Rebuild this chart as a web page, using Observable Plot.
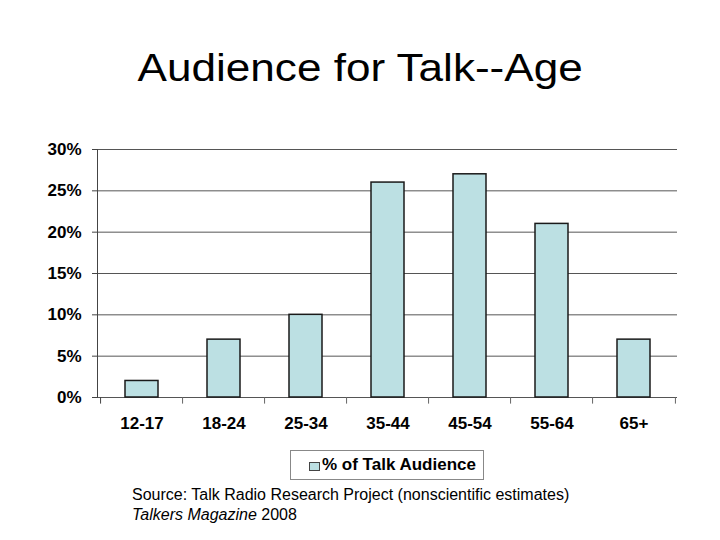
<!DOCTYPE html>
<html>
<head>
<meta charset="utf-8">
<script src="https://cdn.jsdelivr.net/npm/d3@7"></script>
<script src="https://cdn.jsdelivr.net/npm/@observablehq/plot@0.6"></script>
<style>
  html, body { margin: 0; padding: 0; background: #fff; }
  body { width: 720px; height: 540px; position: relative; overflow: hidden; font-family: "Liberation Sans", Arial, sans-serif; }
  #title { position: absolute; left: 0; top: 0; width: 720px; height: 120px; }
  #title div { position: absolute; left: 0; width: 720px; top: 47px; text-align: center; font-size: 38px; color: #000; transform: scaleX(1.16); transform-origin: 359px 0; }
  #chart { position: absolute; left: 0; top: 120px; }
  #legend { position: absolute; left: 290px; top: 450px; width: 192px; height: 28px; border: 1px solid #888; box-sizing: content-box; }
  #legend .sw { position: absolute; left: 18px; top: 11px; width: 9px; height: 7px; background: #BCE0E3; border: 1px solid #444; }
  #legend .lab { position: absolute; left: 31px; top: 4px; font-size: 17px; font-weight: bold; color: #000; white-space: nowrap; }
  #caption { position: absolute; left: 132px; top: 485px; font-size: 16px; line-height: 20px; color: #000; }
</style>
</head>
<body>
<div id="title"><div>Audience for Talk--Age</div></div>
<div id="chart"></div>
<div id="legend"><div class="sw"></div><div class="lab">% of Talk Audience</div></div>
<div id="caption">Source: Talk Radio Research Project (nonscientific estimates)<br><i>Talkers Magazine</i> 2008</div>
<script>
const ageGroups = ["12-17", "18-24", "25-34", "35-44", "45-54", "55-64", "65+"];
const audienceShare = [2, 7, 10, 26, 27, 21, 7];
const yTicks = [0, 5, 10, 15, 20, 25, 30];
const seriesName = "% of Talk Audience";

const data = ageGroups.map((g, i) => ({group: g, value: audienceShare[i]}));

const W = 720, H = 330;
const mL = 97, mR = 43, mT = 29, mB = 53;
const step = (W - mL - mR) / ageGroups.length;

const chart = Plot.plot({
  width: W,
  height: H,
  marginLeft: mL,
  marginRight: mR,
  marginTop: mT,
  marginBottom: mB,
  style: {fontFamily: "'Liberation Sans', Arial, sans-serif", background: "#fff", color: "#000"},
  x: {domain: ageGroups, paddingInner: 0.6, paddingOuter: 0.3, align: 0.5, label: null},
  y: {domain: [0, 30], label: null},
  marks: [
    Plot.gridY(yTicks, {stroke: "#555", strokeOpacity: 1, strokeWidth: 1}),
    Plot.frame({anchor: "left", stroke: "#444", strokeWidth: 1}),
    Plot.ruleX([ageGroups[0]], {x: d => d, dx: -step / 2, y1: 0, y2: -0.8, stroke: "#444"}),
    Plot.axisY(yTicks, {tickSize: 5, tickPadding: 11, tickFormat: d => d + "%", fontSize: 17, fontWeight: "bold", stroke: "#444", label: null}),
    Plot.axisX({tickSize: 0, tickPadding: 19, fontSize: 17, fontWeight: "bold", label: null}),
    Plot.ruleX(ageGroups.slice(1), {x: d => d, dx: -step / 2, y1: 0, y2: -0.8, stroke: "#666"}),
    Plot.ruleX(ageGroups.slice(-1), {x: d => d, dx: step / 2, y1: 0, y2: -0.8, stroke: "#666"}),
    Plot.barY(data, {x: "group", y: "value", fill: "#BCE0E3", stroke: "#1a1a1a", strokeWidth: 1.5, title: d => `${seriesName}: ${d.value}%`})
  ]
});
document.getElementById("chart").appendChild(chart);
</script>
</body>
</html>
